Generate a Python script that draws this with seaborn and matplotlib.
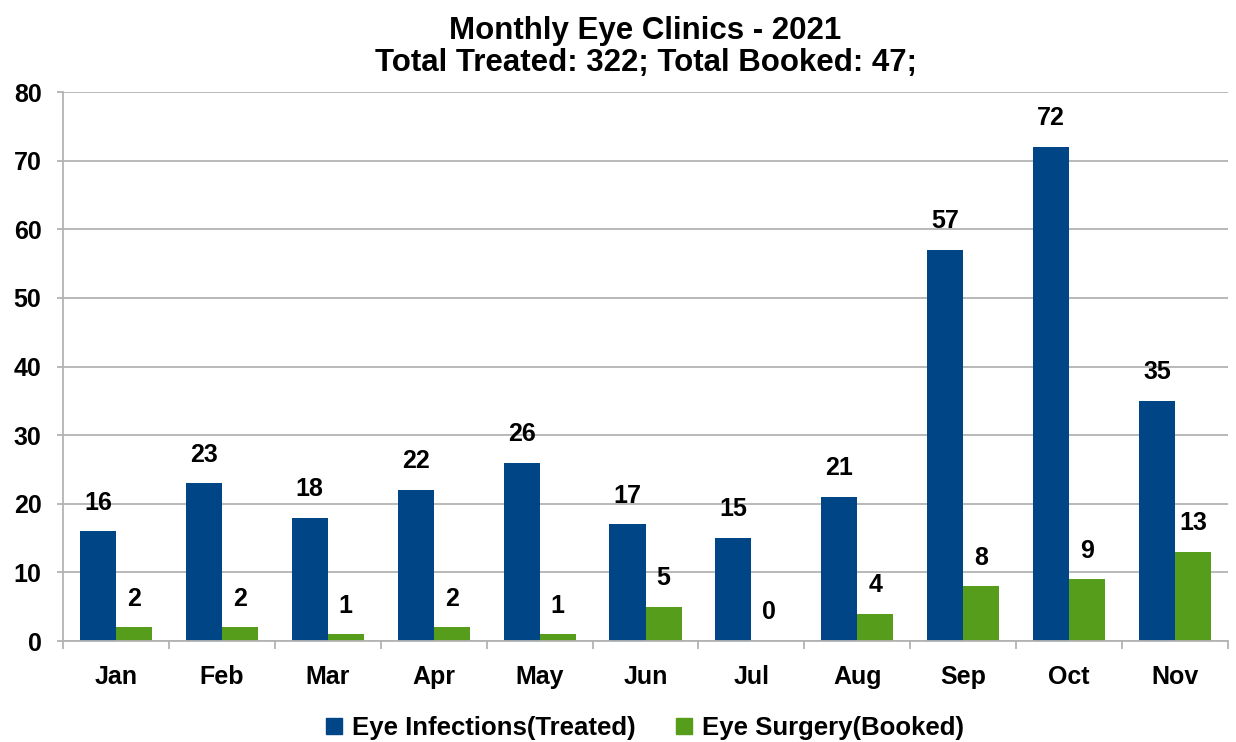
import matplotlib
matplotlib.use("Agg")
import matplotlib.pyplot as plt
import seaborn as sns
import pandas as pd
import numpy as np
from matplotlib.ticker import FixedLocator
from matplotlib.lines import Line2D

months = ["Jan", "Feb", "Mar", "Apr", "May", "Jun", "Jul", "Aug", "Sep", "Oct", "Nov"]
treated = [16, 23, 18, 22, 26, 17, 15, 21, 57, 72, 35]
booked = [2, 2, 1, 2, 1, 5, 0, 4, 8, 9, 13]
series_names = ["Eye Infections(Treated)", "Eye Surgery(Booked)"]
colors = ["#004586", "#579D1C"]
title = "Monthly Eye Clinics - 2021\nTotal Treated: 322; Total Booked: 47;"

sns.set_theme(style="white")
plt.rcParams["font.family"] = ["Liberation Sans", "DejaVu Sans"]
plt.rcParams["font.weight"] = "bold"
plt.rcParams["text.color"] = "black"
plt.rcParams["xtick.color"] = "black"
plt.rcParams["ytick.color"] = "black"

df = pd.DataFrame({
    "Month": months * 2,
    "Value": treated + booked,
    "Series": [series_names[0]] * len(months) + [series_names[1]] * len(months),
})

fig = plt.figure(figsize=(12.36, 7.42), dpi=100)
ax = fig.add_axes([0.051, 0.136, 0.9425, 0.740])

sns.barplot(data=df, x="Month", y="Value", hue="Series", palette=colors,
            width=0.68, ax=ax, legend=False, saturation=1, errorbar=None,
            linewidth=0, edgecolor="none")

ax.set_xlim(-0.5, len(months) - 0.5)
ax.set_ylim(0, 80)
ax.set_yticks(range(0, 81, 10))
ax.yaxis.grid(True, color="#b3b3b3", linewidth=1.3)
ax.set_axisbelow(True)
ax.set_xlabel("")
ax.set_ylabel("")

for s in ["top", "right"]:
    ax.spines[s].set_visible(False)
for s in ["left", "bottom"]:
    ax.spines[s].set_color("#b3b3b3")
    ax.spines[s].set_linewidth(1.3)

ax.tick_params(axis="x", which="major", length=0, pad=17, labelsize=18, labelcolor="black")
ax.xaxis.set_minor_locator(FixedLocator(np.arange(-0.5, len(months), 1.0)))
ax.tick_params(axis="x", which="minor", length=6, color="#b3b3b3", width=1.3, direction="out", bottom=True)
ax.tick_params(axis="y", length=4.5, color="#b3b3b3", width=1.3, direction="out", labelsize=18,
               left=True, pad=11, labelcolor="black")
for lab in ax.get_xticklabels() + ax.get_yticklabels():
    lab.set_fontweight("bold")

for container in ax.containers:
    ax.bar_label(container, labels=[f"{int(v)}" for v in container.datavalues],
                 padding=12, fontsize=18, fontweight="bold", color="black")

ax.set_title(title, fontsize=22.5, fontweight="bold", pad=15, linespacing=1.1, color="black")

handles = [Line2D([0], [0], marker="s", linestyle="", markersize=11,
                  markerfacecolor=c, markeredgecolor=c) for c in colors]
fig.legend(handles, series_names, loc="lower center", bbox_to_anchor=(0.522, -0.028),
           ncol=2, frameon=False, prop={"size": 18.5, "weight": "bold"},
           handlelength=0.6, handletextpad=0.4, columnspacing=1.6, labelcolor="black")

fig.savefig("out.png", dpi=100)
